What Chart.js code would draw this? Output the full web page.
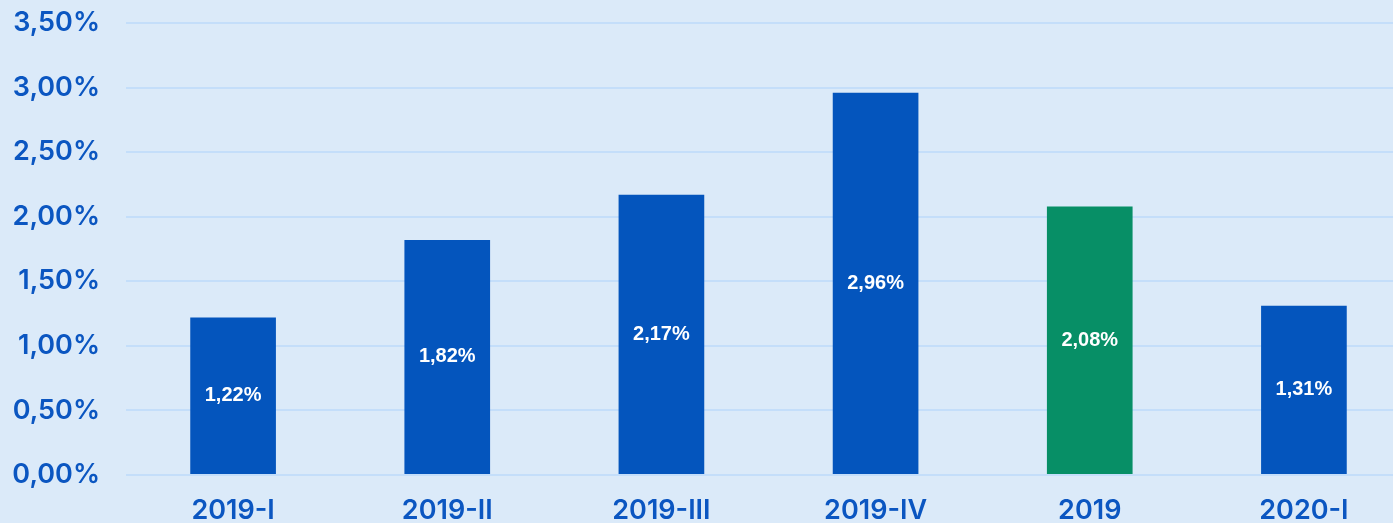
<!DOCTYPE html>
<html>
<head>
<meta charset="utf-8">
<script src="https://cdn.jsdelivr.net/npm/chart.js@4"></script>
<style>
    html, body { margin: 0; padding: 0; background: #dbeaf9; overflow: hidden; }
    #wrap { width: 1411px; height: 523px; position: relative; }
</style>
</head>
<body>
<div id="wrap"><canvas id="myChart"></canvas></div>
<script>
    const labels = ['2019-I', '2019-II', '2019-III', '2019-IV', '2019', '2020-I'];
    const values = [1.22, 1.82, 2.17, 2.96, 2.08, 1.31];
    const barColors = ['#0455bd', '#0455bd', '#0455bd', '#0455bd', '#078f66', '#0455bd'];
    const yTicks = [0, 0.5, 1, 1.5, 2, 2.5, 3, 3.5];

    function fmt(v) {
        return v.toFixed(2).replace('.', ',') + '%';
    }

    const barLabels = {
        id: 'barLabels',
        afterDatasetsDraw(chart) {
            const c = chart.ctx;
            const meta = chart.getDatasetMeta(0);
            c.save();
            c.fillStyle = '#ffffff';
            c.font = 'bold 20px "Liberation Sans", Arial, sans-serif';
            c.textAlign = 'center';
            c.textBaseline = 'middle';
            meta.data.forEach(function (bar, i) {
                const y = (bar.y + bar.base) / 2;
                c.fillText(fmt(values[i]), bar.x, y);
            });
            c.restore();
        }
    };

    const ctx = document.getElementById('myChart');
    const chart = new Chart(ctx, {
        type: 'bar',
        data: {
            labels: labels,
            datasets: [{
                data: values,
                backgroundColor: barColors,
                borderWidth: 0,
                barPercentage: 0.4,
                categoryPercentage: 1
            }]
        },
        options: {
            responsive: true,
            maintainAspectRatio: false,
            animation: false,
            layout: { padding: { top: 23, right: 0, left: 0, bottom: 0 } },
            plugins: {
                legend: { display: false },
                tooltip: { enabled: false }
            },
            scales: {
                x: {
                    grid: { display: false, drawTicks: false },
                    border: { display: false },
                    ticks: {
                        color: '#0b56c1',
                        font: { family: 'Inter, sans-serif', size: 27, weight: '600' },
                        padding: 20,
                        maxRotation: 0
                    },
                    afterFit: function (scale) {
                        scale.height = 48;
                        scale.paddingLeft = 0;
                        scale.paddingRight = 0;
                    }
                },
                y: {
                    min: 0,
                    max: 3.5,
                    afterBuildTicks: function (scale) {
                        scale.ticks = yTicks.map(function (v) { return { value: v }; });
                    },
                    grid: { color: '#c4defa', lineWidth: 2, drawTicks: false },
                    border: { display: false },
                    ticks: {
                        color: '#0b56c1',
                        font: { family: 'Inter, sans-serif', size: 27, weight: '600' },
                        padding: 26,
                        callback: function (v) { return fmt(v); }
                    },
                    afterFit: function (scale) {
                        scale.width = 126;
                        scale.paddingTop = 0;
                        scale.paddingBottom = 0;
                    }
                }
            }
        },
        plugins: [barLabels]
    });
</script>
</body>
</html>
